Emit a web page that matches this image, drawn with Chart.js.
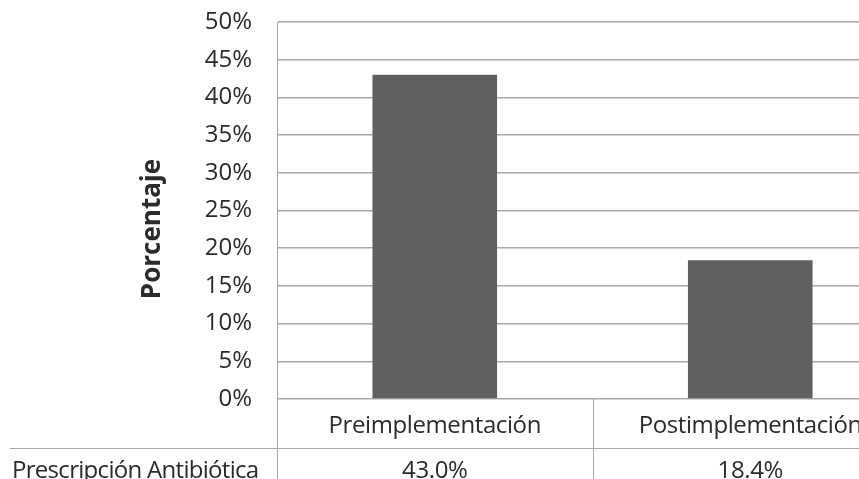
<!DOCTYPE html>
<html>
<head>
<meta charset="utf-8">
<script src="https://cdn.jsdelivr.net/npm/chart.js@4.4.0/dist/chart.umd.min.js"></script>
<style>
  html, body { margin: 0; padding: 0; overflow: hidden; background: #fff; }
  #wrap { width: 908px; height: 479px; }
</style>
</head>
<body>
<div id="wrap"><canvas id="chart" width="908" height="479"></canvas></div>
<script>
// datos
const categories = ['Preimplementación', 'Postimplementación'];
const seriesName = 'Prescripción Antibiótica';
const values = [43.0, 18.4];
const yMin = 0, yMax = 50, yStep = 5;
const yTitle = 'Porcentaje';

const FONT = '"Open Sans", "Noto Sans", sans-serif';
const TEXT = '#2b2b2b';
const LINE = '#a8a8a8';

// tabla de datos bajo el eje X + titulo del eje Y
const dataTable = {
    id: 'dataTable',
    afterDraw(chart) {
        const ctx = chart.ctx;
        const area = chart.chartArea;
        const xs = chart.scales.x;
        const H = chart.height;
        const rowLine = 448;
        const mid = (xs.getPixelForValue(0) + xs.getPixelForValue(1)) / 2;

        ctx.save();
        ctx.strokeStyle = LINE;
        ctx.lineWidth = 1;
        ctx.beginPath();
        ctx.moveTo(Math.round(area.left) + 0.5, area.bottom);
        ctx.lineTo(Math.round(area.left) + 0.5, H);
        ctx.moveTo(Math.round(mid) + 0.5, area.bottom);
        ctx.lineTo(Math.round(mid) + 0.5, H);
        ctx.moveTo(10, rowLine + 0.5);
        ctx.lineTo(area.right, rowLine + 0.5);
        ctx.stroke();

        ctx.fillStyle = TEXT;
        ctx.font = '24px ' + FONT;
        ctx.letterSpacing = '-0.4px';
        ctx.textBaseline = 'alphabetic';
        ctx.textAlign = 'center';
        categories.forEach((c, i) => {
            const x = xs.getPixelForValue(i);
            ctx.fillText(c, x, 433);
            ctx.fillText(values[i].toFixed(1) + '%', x, 478);
        });
        ctx.textAlign = 'left';
        ctx.letterSpacing = '-0.7px';
        ctx.fillText(seriesName, 12, 478);

        // titulo eje Y
        ctx.letterSpacing = '0px';
        ctx.translate(153, 229);
        ctx.rotate(-Math.PI / 2);
        ctx.textAlign = 'center';
        ctx.textBaseline = 'middle';
        ctx.font = 'bold 26px ' + FONT;
        ctx.fillText(yTitle, 0, 0);
        ctx.restore();
    }
};

new Chart(document.getElementById('chart'), {
    type: 'bar',
    data: {
        labels: categories,
        datasets: [{
            label: seriesName,
            data: values,
            backgroundColor: '#606060',
            borderWidth: 0,
            barPercentage: 0.395,
            categoryPercentage: 1
        }]
    },
    options: {
        responsive: false,
        animation: false,
        devicePixelRatio: 1,
        layout: { padding: { top: 22, bottom: 80, left: 0, right: 0 } },
        plugins: { legend: { display: false }, tooltip: { enabled: false } },
        scales: {
            x: { display: false },
            y: {
                min: yMin, max: yMax,
                afterFit: (s) => { s.width = 277; s.paddingTop = 0; s.paddingBottom = 0; },
                ticks: {
                    stepSize: yStep,
                    padding: 25,
                    color: TEXT,
                    font: { family: FONT, size: 24 },
                    callback: (v) => v + '%'
                },
                grid: { color: LINE, lineWidth: 1.5, drawTicks: false },
                border: { display: true, color: LINE, width: 1 }
            }
        }
    },
    plugins: [dataTable]
});
</script>
</body>
</html>
